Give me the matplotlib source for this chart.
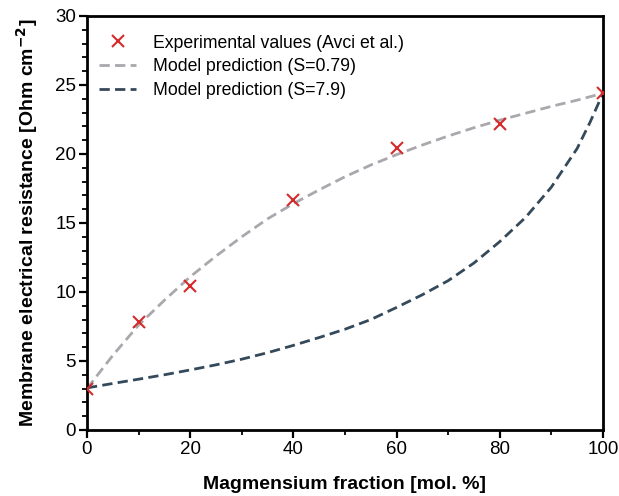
import matplotlib
matplotlib.use("Agg")
import matplotlib.pyplot as plt
from matplotlib.ticker import MultipleLocator

plt.rcParams['font.family'] = ['Liberation Sans', 'DejaVu Sans']

# Experimental values (Avci et al.)
exp_x = [0, 10, 20, 40, 60, 80, 100]
exp_y = [3.0, 7.8, 10.4, 16.7, 20.4, 22.15, 24.4]

# Model prediction S=0.79
m1_x = [0, 5, 10, 15, 20, 25, 30, 35, 40, 45, 50, 55, 60, 65, 70, 75, 80, 85, 90, 95, 100]
m1_y = [3.0, 5.4, 7.6, 9.4, 11.1, 12.6, 14.0, 15.3, 16.4, 17.4, 18.35, 19.2, 19.95,
        20.65, 21.3, 21.9, 22.45, 22.95, 23.45, 23.9, 24.4]

# Model prediction S=7.9
m2_x = [0, 5, 10, 15, 20, 25, 30, 35, 40, 45, 50, 55, 60, 65, 70, 75, 80, 85, 90, 95, 97.5, 100]
m2_y = [3.05, 3.37, 3.68, 4.0, 4.35, 4.72, 5.13, 5.6, 6.13, 6.7, 7.3, 8.0, 8.88,
        9.8, 10.82, 12.1, 13.65, 15.4, 17.6, 20.4, 22.3, 24.4]

fig = plt.figure(figsize=(6.19, 4.96), dpi=100)
ax = fig.add_axes([0.1405, 0.1331, 0.8336, 0.8347])

dash = (0, (3.7, 1.9))
ax.plot(exp_x, exp_y, linestyle='none', marker='x', color='#d42a2a', markersize=9,
        markeredgewidth=1.5, label='Experimental values (Avci et al.)', zorder=3)
ax.plot(m1_x, m1_y, linestyle=dash, color='#aaa7ad', linewidth=2,
        label='Model prediction (S=0.79)')
ax.plot(m2_x, m2_y, linestyle=dash, color='#34495a', linewidth=2,
        label='Model prediction (S=7.9)')

ax.set_xlim(0, 100)
ax.set_ylim(0, 30)
ax.xaxis.set_major_locator(MultipleLocator(20))
ax.xaxis.set_minor_locator(MultipleLocator(10))
ax.yaxis.set_major_locator(MultipleLocator(5))
ax.yaxis.set_minor_locator(MultipleLocator(1))
ax.tick_params(which='major', direction='out', length=5.8, width=1.6, labelsize=13.5, pad=2)
ax.tick_params(which='minor', direction='out', length=3.8, width=1.3)
for s in ax.spines.values():
    s.set_linewidth(2)

ax.set_xlabel('Magmensium fraction [mol. %]', fontsize=14, fontweight='bold', labelpad=13)
ax.set_ylabel('Membrane electrical resistance [Ohm cm$^{\\mathbf{-2}}$]', fontsize=14,
              fontweight='bold', labelpad=11)

ax.legend(loc='upper left', frameon=False, fontsize=12.7, handlelength=2.1,
          bbox_to_anchor=(0.0, 0.985), borderaxespad=0.3, handletextpad=0.95,
          labelspacing=0.38)

fig.savefig('out.png', dpi=100)
